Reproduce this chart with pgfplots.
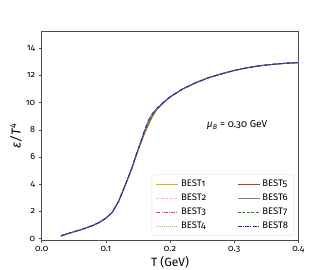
\documentclass[border=0pt]{standalone}
\usepackage{fontspec}
\setmainfont{Fira Sans}[Numbers=OldStyle]
\newfontfamily\linfont{Fira Sans}
\usepackage{pgfplots}
\pgfplotsset{compat=1.18}
\usepackage{pgfplotstable}

\pgfplotstableread{
T     b1    b2    b3    b4    b5    b6    b7    b8
0.030 0.20  0.20  0.20  0.20  0.20  0.20  0.20  0.20
0.040 0.36  0.36  0.36  0.36  0.36  0.36  0.36  0.36
0.050 0.50  0.50  0.50  0.50  0.50  0.50  0.50  0.50
0.060 0.64  0.64  0.64  0.64  0.64  0.64  0.64  0.64
0.070 0.80  0.80  0.80  0.80  0.80  0.80  0.80  0.80
0.080 0.97  0.97  0.97  0.97  0.97  0.97  0.97  0.97
0.090 1.20  1.20  1.20  1.20  1.20  1.20  1.20  1.20
0.100 1.50  1.50  1.50  1.50  1.50  1.50  1.50  1.50
0.110 1.93  1.93  1.93  1.93  1.93  1.93  1.93  1.93
0.120 2.75  2.75  2.75  2.75  2.75  2.75  2.75  2.75
0.130 3.90  3.90  3.92  3.90  3.90  3.90  3.90  3.90
0.140 5.08  5.10  5.10  5.10  5.10  5.10  5.10  5.12
0.150 6.45  6.50  6.47  6.50  6.50  6.50  6.50  6.52
0.155 7.05  7.12  7.08  7.12  7.13  7.14  7.15  7.20
0.160 7.65  7.78  7.70  7.78  7.79  7.80  7.80  7.92
0.165 8.20  8.33  8.25  8.33  8.34  8.35  8.35  8.55
0.170 8.70  8.83  8.75  8.84  8.84  8.85  8.85  9.05
0.175 9.15  9.23  9.18  9.24  9.24  9.25  9.25  9.33
0.180 9.50  9.54  9.52  9.55  9.55  9.55  9.55  9.60
0.190 9.98  10.00 9.99  10.00 10.00 10.00 10.00 10.02
0.200 10.40 10.40 10.40 10.40 10.40 10.40 10.40 10.41
0.220 11.00 11.00 11.00 11.00 11.00 11.00 11.00 11.00
0.240 11.45 11.45 11.45 11.45 11.45 11.45 11.45 11.45
0.260 11.82 11.82 11.82 11.82 11.82 11.82 11.82 11.82
0.280 12.10 12.10 12.10 12.10 12.10 12.10 12.10 12.10
0.300 12.35 12.35 12.35 12.35 12.35 12.35 12.35 12.35
0.320 12.55 12.55 12.55 12.55 12.55 12.55 12.55 12.55
0.340 12.70 12.70 12.70 12.70 12.70 12.70 12.70 12.70
0.360 12.80 12.80 12.80 12.80 12.80 12.80 12.80 12.80
0.380 12.88 12.88 12.88 12.88 12.88 12.88 12.88 12.88
0.400 12.93 12.93 12.93 12.93 12.93 12.93 12.93 12.93
}\data

\definecolor{bestorange}{HTML}{FFA500}
\definecolor{bestpink}{HTML}{FFB6C1}
\definecolor{bestred}{HTML}{FF3B3B}
\definecolor{bestkhaki}{HTML}{BDB76B}
\definecolor{bestbrick}{HTML}{C0392B}
\definecolor{bestgray}{HTML}{808080}
\definecolor{bestgreen}{HTML}{228B22}
\definecolor{bestblue}{HTML}{1A1AFF}

\begin{document}
\begin{tikzpicture}
\begin{axis}[
  name=ax,
  scale only axis, width=256.6pt, height=208.3pt,
  xmin=0, xmax=0.4, ymin=-0.1, ymax=15.2,
  xtick={0,0.1,0.2,0.3,0.4},
  ytick={0,2,4,6,8,10,12,14},
  xticklabel style={/pgf/number format/fixed,/pgf/number format/fixed zerofill,/pgf/number format/precision=1},
  /pgf/number format/assume math mode=true,
  tick label style={font=\fontsize{9}{10}\selectfont},
  tick align=outside, xtick pos=bottom, ytick pos=left,
  major tick length=3pt,
  axis line style={black!70},
  every tick/.style={black!70},
  xlabel={T (GeV)},
  ylabel={\textit{ε/T}\textsuperscript{\linfont\itshape 4}},
  xlabel style={at={(axis description cs:0.5,-0.105)}, anchor=center, font=\fontsize{12}{14}\selectfont},
  ylabel style={at={(axis description cs:-0.1,0.5)}, anchor=center, font=\fontsize{13}{15}\selectfont},
  legend columns=2,
  legend cell align=left,
  legend image code/.code={\draw[#1] (0pt,0pt) -- (22pt,0pt);},
  legend style={at={(rel axis cs:1,0)}, anchor=south east, xshift=-4pt, yshift=4pt,
    draw=black!15, rounded corners=2pt, fill=white,
    font=\fontsize{9.5}{11}\selectfont, row sep=1.8pt,
    /tikz/every even column/.append style={column sep=29pt},
    inner xsep=4pt, inner ysep=3.5pt},
  clip=false,
]
\addplot[bestorange, line width=1pt, forget plot] table[x=T,y=b1] {\data};
\addplot[bestpink, line width=0.9pt, dash pattern=on 3pt off 1.5pt, forget plot] table[x=T,y=b2] {\data};
\addplot[bestred, line width=0.9pt, dash pattern=on 4pt off 1.2pt on 1pt off 1.2pt, forget plot] table[x=T,y=b3] {\data};
\addplot[bestkhaki, line width=1pt, dash pattern=on 1pt off 1pt, forget plot] table[x=T,y=b4] {\data};
\addplot[bestbrick, line width=0.9pt, forget plot] table[x=T,y=b5] {\data};
\addplot[bestgray, line width=0.9pt, forget plot] table[x=T,y=b6] {\data};
\addplot[bestgreen, line width=0.9pt, dash pattern=on 3pt off 1.5pt, forget plot] table[x=T,y=b7] {\data};
\addplot[bestblue, line width=0.9pt, dash pattern=on 4pt off 1.2pt on 1pt off 1.2pt, forget plot] table[x=T,y=b8] {\data};
\addlegendimage{bestorange, line width=1.3pt}\addlegendentry{BEST1}
\addlegendimage{bestbrick, line width=1.2pt}\addlegendentry{BEST5}
\addlegendimage{bestpink, line width=1.2pt, dash pattern=on 3pt off 1.5pt}\addlegendentry{BEST2}
\addlegendimage{bestgray, line width=1.2pt}\addlegendentry{BEST6}
\addlegendimage{bestred, line width=1.2pt, dash pattern=on 4pt off 1.2pt on 1pt off 1.2pt}\addlegendentry{BEST3}
\addlegendimage{bestgreen, line width=1.2pt, dash pattern=on 3pt off 1.5pt}\addlegendentry{BEST7}
\addlegendimage{bestkhaki, line width=1.3pt, dash pattern=on 1pt off 1pt}\addlegendentry{BEST4}
\addlegendimage{bestblue, line width=1.2pt, dash pattern=on 4pt off 1.2pt on 1pt off 1.2pt}\addlegendentry{BEST8}
\node[font=\fontsize{10}{12}\selectfont] at (axis cs:0.3045,8.33) {\textit{μ}\textsubscript{\textit{B}} = 0.30 GeV};
\end{axis}
\pgfresetboundingbox
\path (ax.south west) ++(-41.7pt,-30pt) rectangle ++(332pt,270pt);
\end{tikzpicture}
\end{document}
